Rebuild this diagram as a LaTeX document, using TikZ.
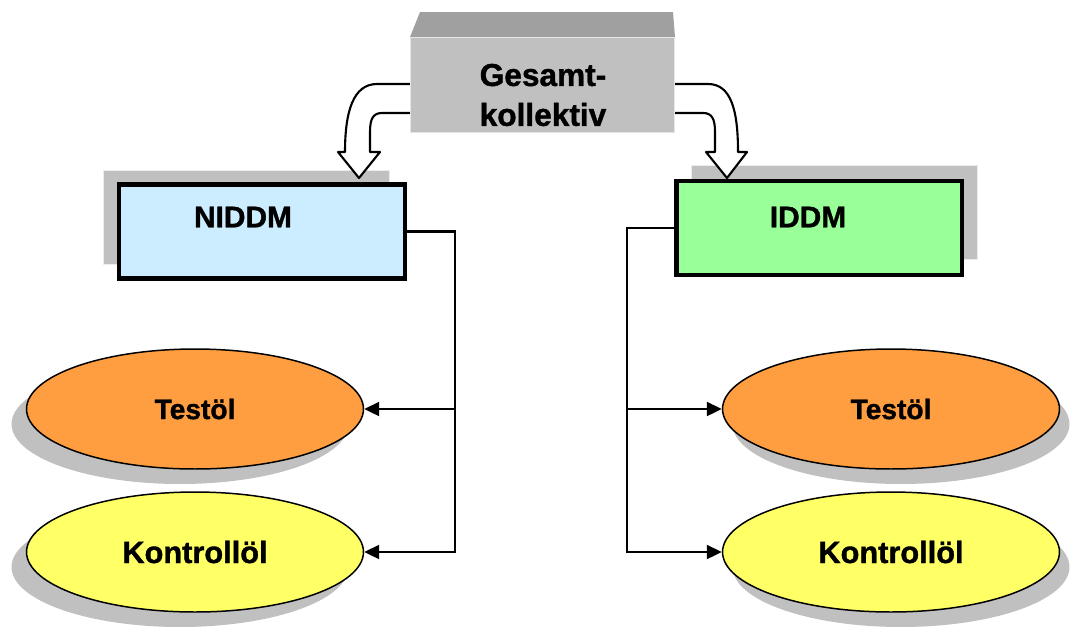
\documentclass[tikz,border=0pt]{standalone}
\usepackage{fontspec}
\setmainfont{Liberation Sans}[BoldFeatures = {FakeBold = 1.2}]
\usetikzlibrary{arrows.meta, shapes.geometric, shadows}
\definecolor{niddmblue}{HTML}{CCECFF}
\definecolor{iddmgreen}{HTML}{99FF99}
\definecolor{oilorange}{HTML}{FF9E40}
\definecolor{oilyellow}{HTML}{FFFF66}
\definecolor{shade}{HTML}{C0C0C0}
\definecolor{shadetop}{HTML}{A0A0A0}

\begin{document}
\begin{tikzpicture}[x = 0.02cm, y = -0.02cm,
        group/.style = {draw, line width = 2.8pt, minimum width = 5.72cm, minimum height = 1.88cm},
        grouptext/.style = {font = \bfseries\fontsize{17}{20}\selectfont},
        oil/.style = {ellipse, draw, line width = 0.85pt, minimum width = 6.74cm, minimum height = 2.4cm},
        link/.style = {line width = 1.2pt, -{Triangle[length = 0.3cm, width = 0.28cm]}},
        bigarrow/.style = {draw, fill = white, line width = 1.2pt, line join = round}]
    \useasboundingbox (0, 0) rectangle (1070, 626);
    % groups with their shadow boxes
    \node [group, fill = niddmblue, drop shadow = {shadow xshift = -0.32cm, shadow yshift = 0.29cm, opacity = 1, fill = shade, draw = white!70!shade, line width = 0.5pt}] (niddm) at (262, 231.5) {};
    \node [group, fill = iddmgreen, drop shadow = {shadow xshift = 0.3cm, shadow yshift = 0.32cm, opacity = 1, fill = shade, draw = white!70!shade, line width = 0.5pt}] (iddm) at (819, 228) {};
    \node [grouptext] (niddmtext) at (243, 217) {NIDDM};
    \node [grouptext] (iddmtext) at (808, 217) {IDDM};
    % block arrows
    \draw [bigarrow] (420, 84) -- (377, 84) .. controls (353, 84) and (345, 112) .. (345, 152) -- (338, 152) -- (359, 178) -- (380, 152) -- (370, 152) -- (370, 132) .. controls (370, 119) and (373, 113) .. (382, 113) -- (420, 113);
    \draw [bigarrow] (664, 84) -- (708, 84) .. controls (731, 84) and (738, 110) .. (738, 152) -- (747, 152) -- (727, 178) -- (706, 152) -- (715, 152) -- (715, 132) .. controls (715, 119) and (712, 113) .. (703, 113) -- (664, 113);
    % top box
    \fill [shadetop] (410, 37) -- (420, 12) -- (673, 12) -- (675, 37) -- cycle;
    \node [fill = shade, draw = white!60!shade, line width = 0.5pt, minimum width = 5.28cm, minimum height = 1.9cm] (gesamt) at (542, 84.5) {};
    \node [align = center, font = \bfseries\fontsize{18}{22.7}\selectfont] (gesamttext) at (543, 95) {Gesamt-\\kollektiv};
    % oils
    \node [oil, fill = oilorange, font = \bfseries\fontsize{16}{18}\selectfont, drop shadow = {shadow xshift = -0.3cm, shadow yshift = -0.3cm, opacity = 1, fill = shade}] (testl) at (195, 409) {Testöl};
    \node [oil, fill = oilyellow, font = \bfseries\fontsize{17.5}{20}\selectfont, drop shadow = {shadow xshift = -0.3cm, shadow yshift = -0.3cm, opacity = 1, fill = shade}] (kontl) at (195, 552) {Kontrollöl};
    \node [oil, fill = oilorange, font = \bfseries\fontsize{16}{18}\selectfont, drop shadow = {shadow xshift = 0.2cm, shadow yshift = -0.3cm, opacity = 1, fill = shade}] (testr) at (891, 409) {Testöl};
    \node [oil, fill = oilyellow, font = \bfseries\fontsize{17.5}{20}\selectfont, drop shadow = {shadow xshift = 0.2cm, shadow yshift = -0.3cm, opacity = 1, fill = shade}] (kontr) at (891, 552) {Kontrollöl};
    % links
    \coordinate (lbus) at (455, 0);
    \coordinate (rbus) at (627, 0);
    \draw [link] (niddm.east) -- (niddm.east -| lbus) -- (lbus |- kontl.east) -- (kontl.east);
    \draw [link] (lbus |- testl.east) -- (testl.east);
    \draw [link] (iddm.west) -- (iddm.west -| rbus) -- (rbus |- kontr.west) -- (kontr.west);
    \draw [link] (rbus |- testr.west) -- (testr.west);
\end{tikzpicture}
\end{document}
